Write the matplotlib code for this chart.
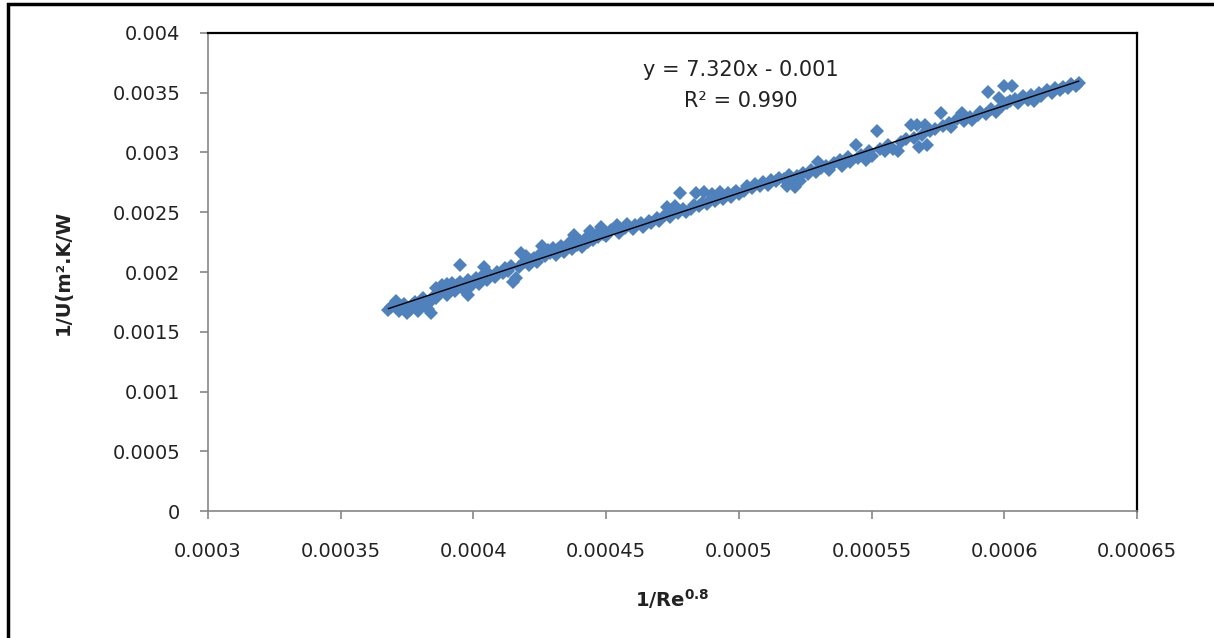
"""
Overall heat transfer coefficient vs. Reynolds number (Wilson plot).

Scatter of 1/U against 1/Re^0.8 with the linear trendline and its equation.
"""

import matplotlib
matplotlib.use("Agg")
import matplotlib.pyplot as plt
from matplotlib.patches import Rectangle
import numpy as np

# 1/Re^0.8
re_inv = [
    0.000368, 0.000369, 0.000371, 0.000372, 0.000373, 0.000374, 0.000375, 0.000376,
    0.000377, 0.000378, 0.000379, 0.000380, 0.000381, 0.000382, 0.000383, 0.000384,
    0.000385, 0.000384,
    0.000386, 0.000386, 0.000387, 0.000388, 0.000389, 0.000390, 0.000390, 0.000391,
    0.000392, 0.000393, 0.000394, 0.000395, 0.000395, 0.000396, 0.000397, 0.000398,
    0.000398, 0.000399, 0.000400, 0.000401, 0.000402, 0.000404, 0.000403, 0.000405,
    0.000406, 0.000408, 0.000409, 0.000411, 0.000412,
    0.000413, 0.000414, 0.000415, 0.000416, 0.000417, 0.000418, 0.000419, 0.000420,
    0.000421, 0.000422,
    0.000423, 0.000424, 0.000425, 0.000426, 0.000427, 0.000428, 0.000429, 0.000430,
    0.000431, 0.000432, 0.000433, 0.000434, 0.000435, 0.000436, 0.000437, 0.000438,
    0.000439, 0.000440, 0.000441, 0.000442, 0.000443, 0.000444, 0.000445, 0.000446,
    0.000447, 0.000448, 0.000449, 0.000450,
    0.000452, 0.000454, 0.000455, 0.000457, 0.000458, 0.000460, 0.000461, 0.000463,
    0.000464, 0.000466, 0.000467, 0.000469, 0.000470, 0.000472, 0.000473, 0.000474,
    0.000475, 0.000476, 0.000477, 0.000478, 0.000479, 0.000480,
    0.000482, 0.000483, 0.000484, 0.000485, 0.000486, 0.000487, 0.000488, 0.000489,
    0.000490, 0.000491, 0.000492, 0.000493, 0.000494, 0.000496, 0.000497, 0.000498,
    0.000499, 0.000500,
    0.000502, 0.000503, 0.000505, 0.000506, 0.000508, 0.000509, 0.000511, 0.000512,
    0.000514, 0.000515, 0.000517, 0.000518, 0.000519, 0.000520, 0.000521, 0.000522,
    0.000523, 0.000524, 0.000526, 0.000527, 0.000529, 0.000530, 0.000531,
    0.000533, 0.000534, 0.000536, 0.000538, 0.000539, 0.000541, 0.000542, 0.000544,
    0.000545, 0.000546, 0.000548, 0.000549, 0.000550, 0.000552, 0.000553, 0.000555,
    0.000556, 0.000558, 0.000560, 0.000561,
    0.000563, 0.000565, 0.000566, 0.000567, 0.000568, 0.000569, 0.000570, 0.000571,
    0.000572, 0.000574, 0.000576, 0.000577, 0.000579, 0.000580, 0.000582, 0.000584,
    0.000585, 0.000587, 0.000588, 0.000590, 0.000591, 0.000593, 0.000594, 0.000595,
    0.000597, 0.000598, 0.000599, 0.000600, 0.000603, 0.000601,
    0.000602, 0.000604, 0.000605, 0.000607, 0.000609, 0.000610, 0.000611, 0.000613,
    0.000614, 0.000616, 0.000618, 0.000619, 0.000621, 0.000622, 0.000624, 0.000625,
    0.000627, 0.000628,
]

# 1/U (m2.K/W)
u_inv = [
    0.00168, 0.00171, 0.00176, 0.00167, 0.00170, 0.00173, 0.00166, 0.00168,
    0.00172, 0.00175, 0.00167, 0.00170, 0.00178, 0.00173, 0.00169, 0.00166,
    0.00180, 0.00176,
    0.00178, 0.00187, 0.00182, 0.00189, 0.00185, 0.00190, 0.00181, 0.00187,
    0.00191, 0.00184, 0.00189, 0.00192, 0.00206, 0.00186, 0.00190, 0.00193,
    0.00181, 0.00188, 0.00191, 0.00195, 0.00190, 0.00204, 0.00196, 0.00193,
    0.00198, 0.00196, 0.00200, 0.00199, 0.00203,
    0.00201, 0.00205, 0.00192, 0.00195, 0.00204, 0.00216, 0.00208, 0.00213,
    0.00206, 0.00210,
    0.00212, 0.00208, 0.00215, 0.00222, 0.00213, 0.00218, 0.00216, 0.00220,
    0.00214, 0.00219, 0.00222, 0.00217, 0.00221, 0.00224, 0.00219, 0.00231,
    0.00223, 0.00226, 0.00221, 0.00228, 0.00225, 0.00234, 0.00227, 0.00231,
    0.00229, 0.00238, 0.00232, 0.00230,
    0.00235, 0.00239, 0.00233, 0.00237, 0.00240, 0.00236, 0.00239, 0.00241,
    0.00238, 0.00243, 0.00241, 0.00245, 0.00243, 0.00248, 0.00254, 0.00246,
    0.00251, 0.00255, 0.00249, 0.00266, 0.00253, 0.00250,
    0.00253, 0.00256, 0.00266, 0.00255, 0.00258, 0.00267, 0.00257, 0.00260,
    0.00265, 0.00259, 0.00262, 0.00267, 0.00261, 0.00266, 0.00263, 0.00266,
    0.00268, 0.00265,
    0.00268, 0.00272, 0.00270, 0.00274, 0.00272, 0.00275, 0.00273, 0.00277,
    0.00276, 0.00279, 0.00278, 0.00272, 0.00281, 0.00275, 0.00271, 0.00280,
    0.00276, 0.00283, 0.00282, 0.00285, 0.00284, 0.00292, 0.00287,
    0.00289, 0.00285, 0.00291, 0.00294, 0.00289, 0.00296, 0.00292, 0.00306,
    0.00295, 0.00298, 0.00294, 0.00301, 0.00297, 0.00318, 0.00303, 0.00301,
    0.00306, 0.00303, 0.00301, 0.00309,
    0.00311, 0.00323, 0.00312, 0.00323, 0.00305, 0.00315, 0.00323, 0.00306,
    0.00318, 0.00320, 0.00333, 0.00322, 0.00325, 0.00321, 0.00328, 0.00333,
    0.00326, 0.00330, 0.00327, 0.00331, 0.00334, 0.00332, 0.00351, 0.00336,
    0.00334, 0.00346, 0.00339, 0.00356, 0.00356, 0.00341,
    0.00343, 0.00345, 0.00341, 0.00347, 0.00344, 0.00348, 0.00343, 0.00350,
    0.00347, 0.00352, 0.00350, 0.00354, 0.00352, 0.00355, 0.00354, 0.00357,
    0.00356, 0.00358,
]

# trendline as reported on the chart
SLOPE = 7.320
INTERCEPT = -0.001
R_SQUARED = 0.990

x_ticks = [0.0003, 0.00035, 0.0004, 0.00045, 0.0005, 0.00055, 0.0006, 0.00065]
x_tick_labels = ["0.0003", "0.00035", "0.0004", "0.00045", "0.0005", "0.00055", "0.0006", "0.00065"]
y_ticks = [0, 0.0005, 0.001, 0.0015, 0.002, 0.0025, 0.003, 0.0035, 0.004]
y_tick_labels = ["0", "0.0005", "0.001", "0.0015", "0.002", "0.0025", "0.003", "0.0035", "0.004"]

MARKER_COLOR = "#4F81BD"
AXIS_GREY = "#868686"
TEXT_COLOR = "#222222"


def main():
    plt.rcParams["font.family"] = ["DejaVu Sans"]

    fig = plt.figure(figsize=(12.14, 6.38), dpi=100)
    ax = fig.add_axes([0.1713, 0.199, 0.7653, 0.7493])

    ax.plot(re_inv, u_inv, linestyle="none", marker="D", markersize=6.8,
            markeredgewidth=0, color=MARKER_COLOR, zorder=2)

    xs = np.array([min(re_inv), max(re_inv)])
    ax.plot(xs, SLOPE * xs + INTERCEPT, color="black", linewidth=1.0, zorder=3)

    ax.text(0.573, 0.922, f"y = {SLOPE:.3f}x - {abs(INTERCEPT):.3f}",
            transform=ax.transAxes, ha="center", va="center", fontsize=15,
            color=TEXT_COLOR)
    ax.text(0.573, 0.858, f"R\u00b2 = {R_SQUARED:.3f}",
            transform=ax.transAxes, ha="center", va="center", fontsize=15,
            color=TEXT_COLOR)

    ax.set_xlim(x_ticks[0], x_ticks[-1])
    ax.set_ylim(y_ticks[0], y_ticks[-1])
    ax.set_xticks(x_ticks, x_tick_labels)
    ax.set_yticks(y_ticks, y_tick_labels)
    ax.tick_params(axis="both", direction="out", length=6, width=1.2,
                   color=AXIS_GREY, labelsize=14, labelcolor=TEXT_COLOR)
    ax.tick_params(axis="y", pad=14)
    ax.tick_params(axis="x", pad=16)

    for side in ("left", "bottom"):
        ax.spines[side].set_color(AXIS_GREY)
        ax.spines[side].set_linewidth(1.2)
    for side in ("top", "right"):
        ax.spines[side].set_color("black")
        ax.spines[side].set_linewidth(1.6)

    ax.set_xlabel(r"1/Re$^{\mathbf{0.8}}$", fontsize=14, fontweight="bold",
                  color=TEXT_COLOR)
    ax.set_ylabel("1/U(m\u00b2.K/W", fontsize=14, fontweight="bold",
                  color=TEXT_COLOR)
    ax.xaxis.set_label_coords(0.4995, -0.160)
    ax.yaxis.set_label_coords(-0.145, 0.5)

    # outer chart frame
    fig.add_artist(Rectangle((8 / 1214, -0.1), 1.2, 1.1 - 4 / 638,
                             transform=fig.transFigure, fill=False,
                             edgecolor="black", linewidth=2.5, clip_on=False))

    fig.savefig("out.png", dpi=100)


if __name__ == "__main__":
    main()
